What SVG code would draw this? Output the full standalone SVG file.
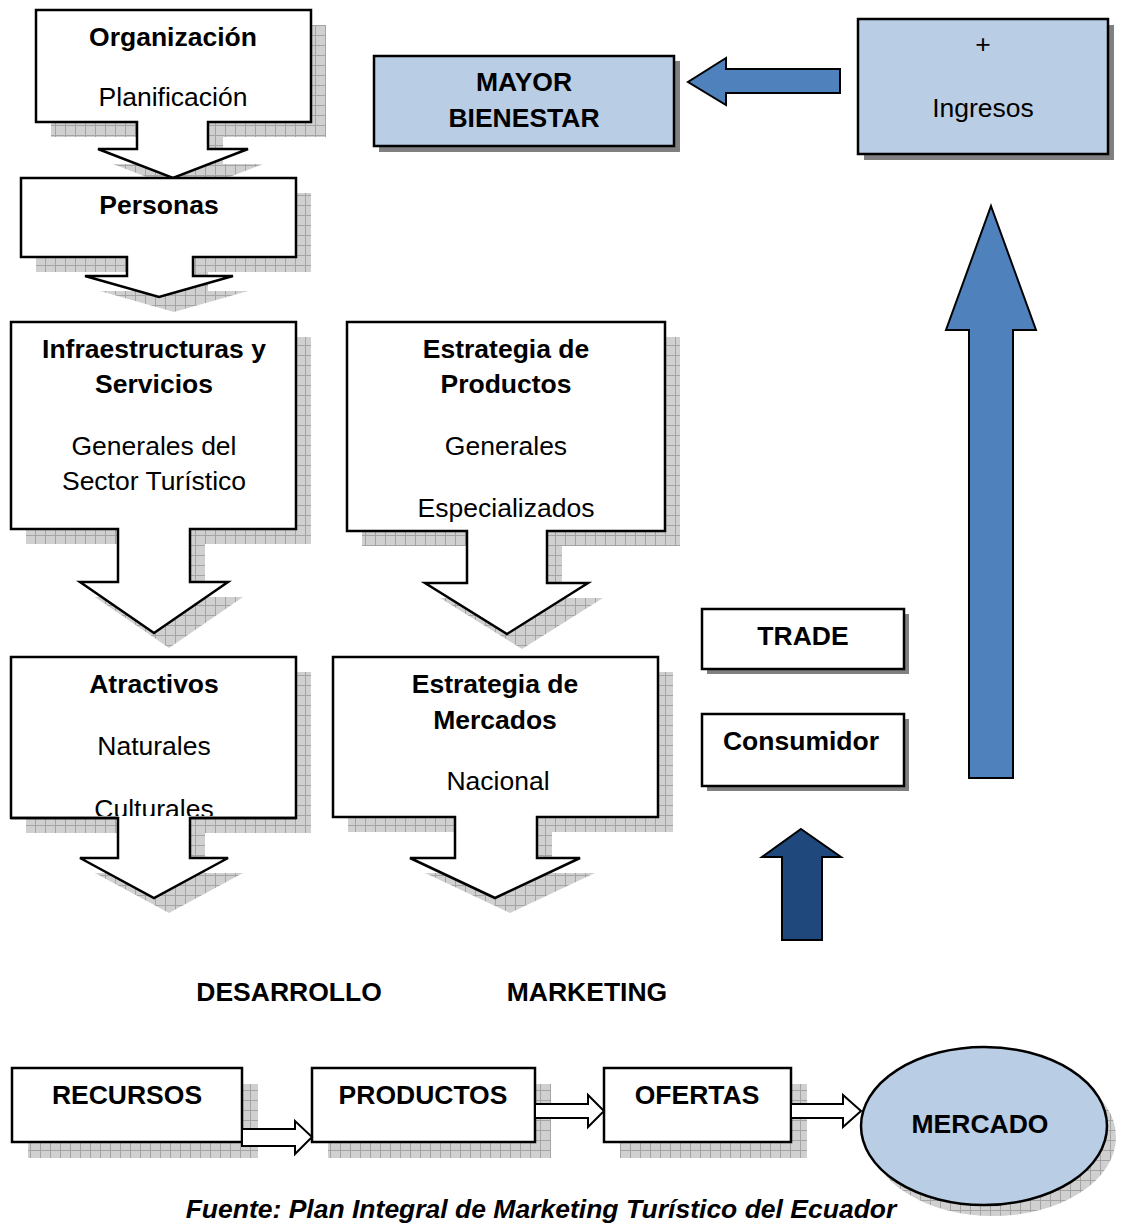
<svg xmlns="http://www.w3.org/2000/svg" width="1127" height="1224" viewBox="0 0 1127 1224">
<defs>
<pattern id="hatch" width="10" height="10" patternUnits="userSpaceOnUse">
<rect width="10" height="10" fill="#d0d0d0"/>
<path d="M0,0.5H10M0.5,0V10" stroke="#a4a4a4" stroke-width="1"/>
</pattern>
<clipPath id="clipAtr"><rect x="11" y="657" width="285" height="159"/></clipPath>
</defs>
<style>
.t{font-family:"Liberation Sans",Arial,sans-serif;font-size:26.5px;fill:#000;text-anchor:middle}
.b{font-weight:bold}
.box{fill:#fff;stroke:#000;stroke-width:2.5}
.blue{fill:#B9CDE5;stroke:#000;stroke-width:2.5}
.sh{fill:url(#hatch)}
.gs{fill:#808080}
.conn{stroke:#000;stroke-width:2}
</style>
<rect width="1127" height="1224" fill="#fff"/>

<g id="organizacion">
<path class="sh" transform="translate(15,15)" d="M36,10H311V122H208V149H248L173,178L98,149H137V122H36Z"/>
<path class="box" d="M36,10H311V122H208V149H248L173,178L98,149H137V122H36Z"/>
<text class="t b" x="173" y="46">Organización</text>
<text class="t" x="173" y="106">Planificación</text>
</g>

<g id="personas">
<path class="sh" transform="translate(15,15)" d="M21,178H296V257H193V276H233L159,297L85,276H127V257H21Z"/>
<path class="box" d="M21,178H296V257H193V276H233L159,297L85,276H127V257H21Z"/>
<text class="t b" x="159" y="214">Personas</text>
</g>

<g id="infraestructuras">
<path class="sh" transform="translate(15,15)" d="M11,322H296V529H190V582H228L154,633L80,582H118V529H11Z"/>
<path class="box" d="M11,322H296V529H190V582H228L154,633L80,582H118V529H11Z"/>
<text class="t b" x="154" y="358">Infraestructuras y</text>
<text class="t b" x="154" y="393">Servicios</text>
<text class="t" x="154" y="455">Generales del</text>
<text class="t" x="154" y="490">Sector Turístico</text>
</g>

<g id="estrategia-productos">
<path class="sh" transform="translate(15,15)" d="M347,322H665V531H547V583H588L507,634L425,583H467V531H347Z"/>
<path class="box" d="M347,322H665V531H547V583H588L507,634L425,583H467V531H347Z"/>
<text class="t b" x="506" y="358">Estrategia de</text>
<text class="t b" x="506" y="393">Productos</text>
<text class="t" x="506" y="455">Generales</text>
<text class="t" x="506" y="517">Especializados</text>
</g>

<g id="atractivos">
<path class="sh" transform="translate(15,15)" d="M11,657H296V818H190V858H228L154,898L80,858H118V818H11Z"/>
<path class="box" d="M11,657H296V818H190V858H228L154,898L80,858H118V818H11Z"/>
<text class="t b" x="154" y="693">Atractivos</text>
<text class="t" x="154" y="755">Naturales</text>
<text class="t" x="154" y="818" clip-path="url(#clipAtr)">Culturales</text>
<path d="M11,818H118M190,818H296" stroke="#000" stroke-width="2.5" fill="none"/>
</g>

<g id="estrategia-mercados">
<path class="sh" transform="translate(15,15)" d="M333,657H658V817H537V858H580L495,898L410,858H455V817H333Z"/>
<path class="box" d="M333,657H658V817H537V858H580L495,898L410,858H455V817H333Z"/>
<text class="t b" x="495" y="693">Estrategia de</text>
<text class="t b" x="495" y="729">Mercados</text>
<text class="t" x="498" y="790">Nacional</text>
</g>

<g id="mayor-bienestar">
<rect class="gs" x="379" y="61" width="301" height="91"/>
<rect class="blue" x="374" y="56" width="300" height="90"/>
<text class="t b" x="524" y="91">MAYOR</text>
<text class="t b" x="524" y="127">BIENESTAR</text>
</g>

<g id="ingresos">
<rect class="gs" x="864" y="25" width="250" height="135"/>
<rect class="blue" x="858" y="19" width="250" height="135"/>
<text class="t" x="983" y="53">+</text>
<text class="t" x="983" y="117">Ingresos</text>
</g>

<g id="trade">
<rect class="gs" x="707" y="614" width="202" height="60"/>
<rect class="box" x="702" y="609" width="202" height="60"/>
<text class="t b" x="803" y="645">TRADE</text>
</g>

<g id="consumidor">
<rect class="gs" x="707" y="719" width="202" height="72"/>
<rect class="box" x="702" y="714" width="202" height="72"/>
<text class="t b" x="801" y="750">Consumidor</text>
</g>

<g id="desarrollo-label">
<text class="t b" x="289" y="1001">DESARROLLO</text>
</g>
<g id="marketing-label">
<text class="t b" x="587" y="1001">MARKETING</text>
</g>

<g id="recursos">
<rect class="sh" x="28" y="1084" width="230" height="74"/>
<rect class="box" x="12" y="1068" width="230" height="74"/>
<text class="t b" x="127" y="1104">RECURSOS</text>
</g>

<g id="productos">
<rect class="sh" x="328" y="1084" width="223" height="74"/>
<rect class="box" x="312" y="1068" width="223" height="74"/>
<text class="t b" x="423" y="1104">PRODUCTOS</text>
</g>

<g id="ofertas">
<rect class="sh" x="620" y="1084" width="187" height="74"/>
<rect class="box" x="604" y="1068" width="187" height="74"/>
<text class="t b" x="697" y="1104">OFERTAS</text>
</g>

<g id="mercado">
<ellipse class="sh" cx="993" cy="1137" rx="123" ry="79"/>
<ellipse class="blue" cx="984" cy="1126" rx="123" ry="79"/>
<text class="t b" x="980" y="1133">MERCADO</text>
</g>

<g id="connectors">
<path class="conn" fill="#4F81BD" d="M840,69V93H726V105L688,82L726,58V69Z"/>
<path class="conn" fill="#4F81BD" d="M991,206L1036,330H1013V778H969V330H946Z"/>
<path class="conn" fill="#1F497D" d="M801,829L841,857H822V940H782V857H762Z"/>
<path class="conn" fill="#fff" d="M242,1129H295V1121L312,1137L295,1154V1146H242Z"/>
<path class="conn" fill="#fff" d="M535,1104H588V1095L604,1111L588,1127V1118H535Z"/>
<path class="conn" fill="#fff" d="M791,1104H843V1095L861,1111L843,1127V1118H791Z"/>
</g>

<g id="fuente">
<text class="t b" x="541" y="1218" font-style="italic">Fuente: Plan Integral de Marketing Turístico del Ecuador</text>
</g>
</svg>
